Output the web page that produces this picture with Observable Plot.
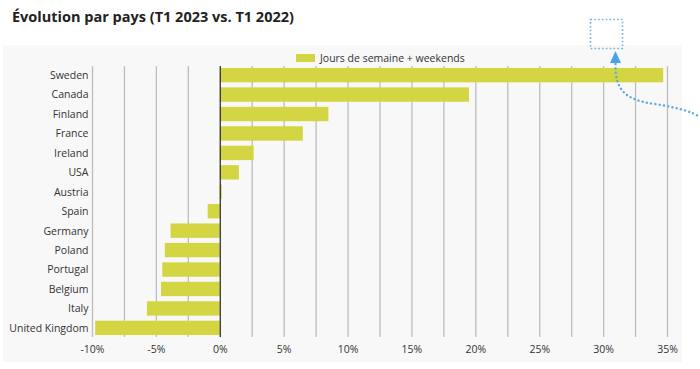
<!DOCTYPE html>
<html><head><meta charset="utf-8">
<script src="https://cdn.jsdelivr.net/npm/d3@7"></script>
<script src="https://cdn.jsdelivr.net/npm/@observablehq/plot@0.6"></script>
<style>
body{margin:0;background:#fff;font-family:"Open Sans",sans-serif;width:700px;height:369px;position:relative;overflow:hidden}
#title{position:absolute;left:12px;top:7px;font-size:14.5px;font-weight:700;color:#222}
#panel{position:absolute;left:3px;top:45px;width:679px;height:317px;background:#f8f8f8}
#legend{position:absolute;left:296px;top:50px;height:16px;font-size:10.5px;color:#333;display:flex;align-items:center}
#legend .sw{width:19px;height:8px;background:#d3d543;margin-right:5px}
#chart{position:absolute;left:0;top:66px}
#deco{position:absolute;left:0;top:0;pointer-events:none}
</style></head><body>
<div id="title">Évolution par pays (T1 2023 vs. T1 2022)</div>
<div id="panel"></div>
<div id="legend"><div class="sw"></div><span>Jours de semaine + weekends</span></div>
<div id="chart"></div>
<svg id="deco" width="700" height="369">
  <rect x="590.5" y="19.5" width="32" height="29" fill="none" stroke="#6fb0e0" stroke-width="1.6" stroke-dasharray="1.6,2.2"/>
  <path d="M615.5,51 L621,63 L610,63 Z" fill="#4aa3e8"/>
  <path d="M615.5,64 C615,90 625,100 655,104 C680,108 692,112 700,117" fill="none" stroke="#5ea8e0" stroke-width="2.4" stroke-linecap="round" stroke-dasharray="0.1,4.2"/>
</svg>
<script>
const countries = ["Sweden","Canada","Finland","France","Ireland","USA","Austria","Spain","Germany","Poland","Portugal","Belgium","Italy","United Kingdom"];
const values = [34.7, 19.5, 8.5, 6.5, 2.65, 1.5, 0.15, -0.95, -3.85, -4.3, -4.5, -4.6, -5.7, -9.75];
const seriesName = "Jours de semaine + weekends";
const axisTicks = [-10, -5, 0, 5, 10, 15, 20, 25, 30, 35];
const gridTicks = [-10, -7.5, -5, -2.5, 2.5, 5, 7.5, 10, 12.5, 15, 17.5, 20, 22.5, 25, 27.5, 30, 32.5, 35];

const data = countries.map((c, i) => ({country: c, value: values[i]}));

const chart = Plot.plot({
  width: 700,
  height: 296,
  marginLeft: 92,
  marginRight: 33,
  marginTop: 0,
  marginBottom: 25,
  style: {background: "transparent", fontFamily: "Open Sans", fontSize: "10.5px", color: "#333"},
  x: {domain: [-10, 35], ticks: axisTicks, tickFormat: d => d + "%", tickSize: 0, tickPadding: 8, label: null},
  y: {domain: countries, paddingInner: 0.26, paddingOuter: 0.1, round: false, label: null, tickSize: 0, tickPadding: 4},
  marks: [
    Plot.ruleX(gridTicks, {stroke: "#bdbdbd", strokeWidth: 1.3}),
    Plot.barX(data, {x: "value", y: "country", fill: "#d3d543"}),
    Plot.ruleX([0], {stroke: "#333", strokeWidth: 1.3})
  ]
});
document.getElementById("chart").appendChild(chart);
</script>
</body></html>
